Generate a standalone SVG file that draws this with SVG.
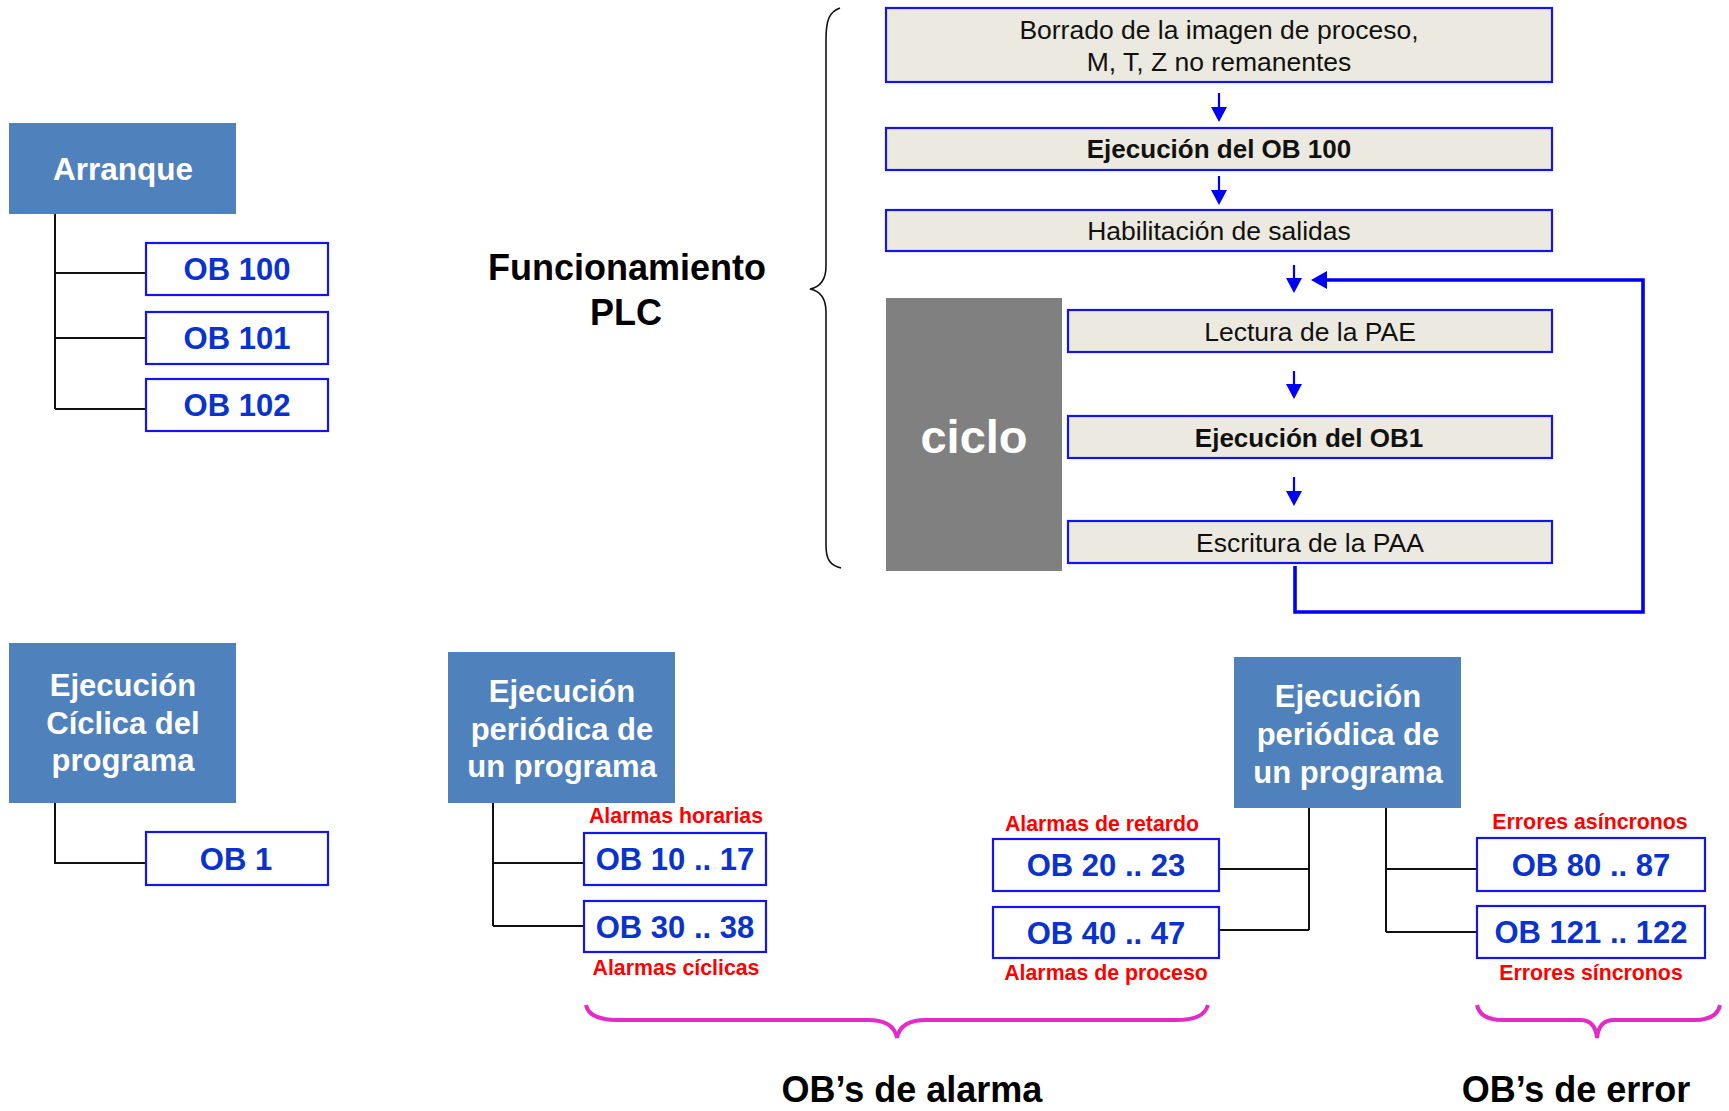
<svg xmlns="http://www.w3.org/2000/svg" width="1729" height="1111" viewBox="0 0 1729 1111">
<style>
text{font-family:"Liberation Sans",Arial,sans-serif;text-anchor:middle}
.hdr rect{fill:#4F81BD}
.hdr text{fill:#fff;font-weight:bold;font-size:31px}
.ob rect{fill:#fff;stroke:#1414F0;stroke-width:2.2}
.ob text{fill:#0a32cc;font-weight:bold;font-size:31px}
.step rect{fill:#ECEAE0;stroke:#1414F0;stroke-width:2.2}
.step text{fill:#111;font-size:26.5px}
.step text.b{font-weight:bold;font-size:26px}
.lbl{fill:#FF0000;font-weight:bold;font-size:21.3px}
.title{fill:#000;font-weight:bold;font-size:36px}
.tree{stroke:#111;stroke-width:2;fill:none}
.flow{stroke:#0000F5;stroke-width:2.2;fill:none}
.head{fill:#0000F5}
.loop{stroke:#0000F5;stroke-width:3.6;fill:none}
.brace{stroke:#111;stroke-width:1.6;fill:none}
.mbrace{stroke:#E32BC9;stroke-width:4;fill:none}
</style>

<g id="connectors">
  <!-- Arranque tree -->
  <path class="tree" d="M55,214 V409 M55,273 H146 M55,338 H146 M55,409 H146"/>
  <!-- Ejecucion ciclica tree -->
  <path class="tree" d="M55,803 V863 H146"/>
  <!-- Periodica 1 tree -->
  <path class="tree" d="M493,803 V926 M493,863 H584 M493,926 H584"/>
  <!-- Periodica 2 left tree -->
  <path class="tree" d="M1309,808 V930 M1309,869 H1219 M1309,930 H1219"/>
  <!-- Periodica 2 right tree -->
  <path class="tree" d="M1386,808 V932 M1386,869 H1477 M1386,932 H1477"/>
  <!-- flow arrows -->
  <path class="flow" d="M1219,93 V108 M1219,176 V191 M1294,265 V279 M1294,371 V385 M1294,477 V492"/>
  <polygon class="head" points="1211,107 1227,107 1219,122"/>
  <polygon class="head" points="1211,190 1227,190 1219,205"/>
  <polygon class="head" points="1286,278 1302,278 1294,293"/>
  <polygon class="head" points="1286,384 1302,384 1294,399"/>
  <polygon class="head" points="1286,491 1302,491 1294,506"/>
  <!-- cycle loop -->
  <path class="loop" d="M1295,566 V612 H1643 V280 H1325"/>
  <polygon class="head" points="1311,280 1327,271 1327,289"/>
</g>

<!-- braces -->
<path id="brace-plc" class="brace" d="M840,8 C829,12 826,20 826,40 L826,266 C826,280 820,287 810,289 C820,291 826,298 826,312 L826,545 C826,560 830,565 841,568"/>
<path id="brace-alarma" class="mbrace" d="M586,1005 C588,1015 598,1020 618,1020 L868,1020 C887,1020 895,1027 897,1038 C899,1027 907,1020 926,1020 L1176,1020 C1196,1020 1205,1015 1208,1005"/>
<path id="brace-error" class="mbrace" d="M1477,1005 C1479,1015 1487,1020 1503,1020 L1580,1020 C1591,1020 1596,1027 1597,1038 C1598,1027 1603,1020 1614,1020 L1694,1020 C1710,1020 1718,1015 1720,1005"/>

<!-- titles -->
<g id="title-plc">
  <text class="title" x="627" y="280">Funcionamiento</text>
  <text class="title" x="626" y="325">PLC</text>
</g>
<text id="title-alarma" class="title" x="912" y="1102">OB’s de alarma</text>
<text id="title-error" class="title" x="1576" y="1102">OB’s de error</text>

<!-- Arranque -->
<g id="arranque" class="hdr">
  <rect x="9" y="123" width="227" height="91"/>
  <text x="123" y="180" style="font-size:31.5px">Arranque</text>
</g>
<g id="ob100" class="ob"><rect x="146" y="243" width="182" height="52"/><text x="237" y="280">OB 100</text></g>
<g id="ob101" class="ob"><rect x="146" y="312" width="182" height="52"/><text x="237" y="349">OB 101</text></g>
<g id="ob102" class="ob"><rect x="146" y="379" width="182" height="52"/><text x="237" y="416">OB 102</text></g>

<!-- Ejecucion ciclica -->
<g id="ejec-ciclica" class="hdr">
  <rect x="9" y="643" width="227" height="160"/>
  <text x="123" y="696">Ejecución</text>
  <text x="123" y="734">Cíclica del</text>
  <text x="123" y="771">programa</text>
</g>
<g id="ob1" class="ob"><rect x="146" y="832" width="182" height="53"/><text x="236" y="870">OB 1</text></g>

<!-- Ejecucion periodica 1 -->
<g id="ejec-periodica-1" class="hdr">
  <rect x="448" y="652" width="227" height="151"/>
  <text x="562" y="702">Ejecución</text>
  <text x="562" y="740">periódica de</text>
  <text x="562" y="777">un programa</text>
</g>
<g id="ob10-17" class="ob"><rect x="584" y="833" width="182" height="52"/><text x="675" y="870">OB 10 .. 17</text></g>
<g id="ob30-38" class="ob"><rect x="584" y="901" width="182" height="51"/><text x="675" y="938">OB 30 .. 38</text></g>
<text id="lbl-horarias" class="lbl" x="676" y="823">Alarmas horarias</text>
<text id="lbl-ciclicas" class="lbl" x="676" y="975">Alarmas cíclicas</text>

<!-- Ejecucion periodica 2 -->
<g id="ejec-periodica-2" class="hdr">
  <rect x="1234" y="657" width="227" height="151"/>
  <text x="1348" y="707">Ejecución</text>
  <text x="1348" y="745">periódica de</text>
  <text x="1348" y="783">un programa</text>
</g>
<g id="ob20-23" class="ob"><rect x="993" y="839" width="226" height="52"/><text x="1106" y="876">OB 20 .. 23</text></g>
<g id="ob40-47" class="ob"><rect x="993" y="907" width="226" height="51"/><text x="1106" y="944">OB 40 .. 47</text></g>
<text id="lbl-retardo" class="lbl" x="1102" y="831">Alarmas de retardo</text>
<text id="lbl-proceso" class="lbl" x="1106" y="980">Alarmas de proceso</text>
<g id="ob80-87" class="ob"><rect x="1477" y="838" width="228" height="53"/><text x="1591" y="876">OB 80 .. 87</text></g>
<g id="ob121-122" class="ob"><rect x="1477" y="906" width="228" height="52"/><text x="1591" y="943">OB 121 .. 122</text></g>
<text id="lbl-asincronos" class="lbl" x="1590" y="829">Errores asíncronos</text>
<text id="lbl-sincronos" class="lbl" x="1591" y="980">Errores síncronos</text>

<!-- PLC operation flow -->
<g id="step-borrado" class="step">
  <rect x="886" y="8" width="666" height="74"/>
  <text x="1219" y="39">Borrado de la imagen de proceso,</text>
  <text x="1219" y="71">M, T, Z no remanentes</text>
</g>
<g id="step-ob100" class="step">
  <rect x="886" y="128" width="666" height="42"/>
  <text class="b" x="1219" y="158">Ejecución del OB 100</text>
</g>
<g id="step-habilitacion" class="step">
  <rect x="886" y="210" width="666" height="41"/>
  <text x="1219" y="240">Habilitación de salidas</text>
</g>
<g id="ciclo">
  <rect x="886" y="298" width="176" height="273" fill="#808080"/>
  <text x="974" y="453" style="fill:#fff;font-weight:bold;font-size:47px">ciclo</text>
</g>
<g id="step-pae" class="step">
  <rect x="1068" y="310" width="484" height="42"/>
  <text x="1310" y="341">Lectura de la PAE</text>
</g>
<g id="step-ob1" class="step">
  <rect x="1068" y="416" width="484" height="42"/>
  <text class="b" x="1309" y="447">Ejecución del OB1</text>
</g>
<g id="step-paa" class="step">
  <rect x="1068" y="521" width="484" height="42"/>
  <text x="1310" y="552">Escritura de la PAA</text>
</g>
</svg>
